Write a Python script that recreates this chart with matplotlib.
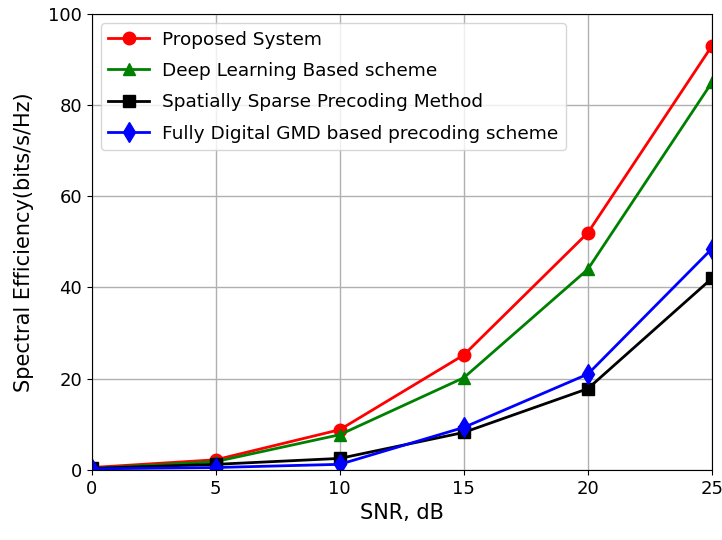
import numpy as np
import matplotlib
matplotlib.use("Agg")
import matplotlib.pyplot as plt

# SNR points and spectral efficiency values
snr = [0, 5, 10, 15, 20, 25]
proposed = [0.5, 2.2, 8.8, 25.2, 52.0, 93.0]
deep_learning = [0.3, 1.8, 7.7, 20.2, 44.0, 85.0]
sparse_precoding = [0.3, 1.2, 2.5, 8.2, 17.8, 42.0]
gmd_digital = [0.2, 0.5, 1.2, 9.3, 21.0, 48.5]

plt.rcParams['font.family'] = ['DejaVu Sans']

fig = plt.figure(figsize=(7.22, 5.4), dpi=100)
ax = fig.add_axes([0.127, 0.130, 0.859, 0.844])

ax.plot(snr, proposed, color='red', marker='o', markersize=9, linewidth=2, label='Proposed System')
ax.plot(snr, deep_learning, color='green', marker='^', markersize=9, linewidth=2, label='Deep Learning Based scheme')
ax.plot(snr, sparse_precoding, color='black', marker='s', markersize=8.5, linewidth=2, label='Spatially Sparse Precoding Method')
ax.plot(snr, gmd_digital, color='blue', marker='d', markersize=10, linewidth=2, label='Fully Digital GMD based precoding scheme')

ax.set_xlim(0, 25)
ax.set_ylim(0, 100)
ax.set_xticks([0, 5, 10, 15, 20, 25])
ax.set_yticks([0, 20, 40, 60, 80, 100])
ax.tick_params(labelsize=13)
ax.grid(True, color='#b0b0b0', linewidth=1)
ax.set_xlabel('SNR, dB', fontsize=15)
ax.set_ylabel('Spectral Efficiency(bits/s/Hz)', fontsize=15, labelpad=10)
ax.legend(loc='upper left', fontsize=13.3, handlelength=2.2, handletextpad=0.7,
          labelspacing=0.72, borderaxespad=0.5)

fig.savefig('out.png', dpi=100)
